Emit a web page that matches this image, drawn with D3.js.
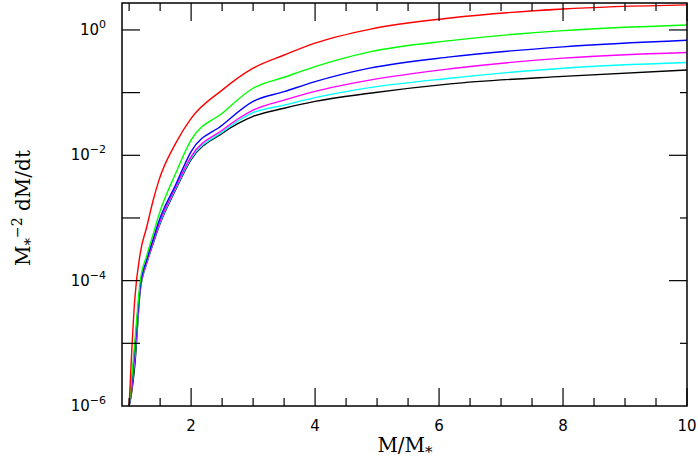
<!DOCTYPE html>
<html><head><meta charset="utf-8">
<script src="https://cdn.jsdelivr.net/npm/d3@7"></script>
<style>body{margin:0;background:#fff}</style>
</head><body>
<svg id="c" width="698" height="463"></svg>
<script>
// x = M/M*, series values given as log10(M*^-2 dM/dt)
const xs = [1.0, 1.03, 1.09, 1.18, 1.285, 1.39, 1.48, 1.75, 2, 2.5, 3, 3.5, 4, 4.88, 6.18, 8, 10];
const redLog = [-6, -5.37, -4.31, -3.56, -3.14, -2.71, -2.40, -1.81, -1.41, -0.96, -0.61, -0.40, -0.21, 0.01, 0.19, 0.335, 0.40];
const greenLog = [-6, -5.7, -5.0, -4.0, -3.6, -3.25, -2.95, -2.29, -1.755, -1.33, -0.93, -0.755, -0.585, -0.35, -0.17, -0.01, 0.08];
const blueLog = [-6, -5.75, -5.1, -4.08, -3.66, -3.33, -3.05, -2.47, -1.94, -1.52, -1.14, -0.985, -0.825, -0.61, -0.43, -0.27, -0.165];
const magentaLog = [-6, -5.8, -5.2, -4.12, -3.7, -3.37, -3.1, -2.51, -2.02, -1.60, -1.28, -1.12, -0.98, -0.80, -0.62, -0.45, -0.36];
const cyanLog = [-6, -5.8, -5.25, -4.13, -3.71, -3.38, -3.12, -2.53, -2.05, -1.63, -1.32, -1.20, -1.08, -0.92, -0.77, -0.61, -0.52];
const blackLog = [-6, -5.85, -5.37, -4.15, -3.72, -3.40, -3.14, -2.55, -2.07, -1.65, -1.38, -1.25, -1.14, -1.01, -0.86, -0.74, -0.64];
const xTickLabels = [2, 4, 6, 8, 10];
const yTickExps = [0, -2, -4, -6];

const series = [
  {c:"#000000", v:blackLog}, {c:"#00ffff", v:cyanLog}, {c:"#ff00ff", v:magentaLog},
  {c:"#0000ff", v:blueLog}, {c:"#00ff00", v:greenLog}, {c:"#ff0000", v:redLog}
];

const L=122, R=687, T=3, B=406;
const svg = d3.select("#c");
const x = d3.scaleLinear().domain([0.885,10]).range([L,R]);
const y = d3.scaleLog().domain([1e-6, Math.pow(10,0.43)]).range([B,T]);

svg.append("clipPath").attr("id","cp").append("rect")
  .attr("x",L).attr("y",T).attr("width",R-L).attr("height",B-T);

const line = d3.line().x(d=>x(d[0])).y(d=>y(d[1])).curve(d3.curveMonotoneX);
const g = svg.append("g").attr("clip-path","url(#cp)");
series.forEach(s=>{
  g.append("path").attr("d", line(xs.map((xv,i)=>[xv, Math.pow(10, s.v[i])])))
   .attr("fill","none").attr("stroke",s.c).attr("stroke-width",1.4);
});

svg.append("rect").attr("x",L).attr("y",T).attr("width",R-L).attr("height",B-T)
  .attr("fill","none").attr("stroke","#000").attr("stroke-width",1.5);

d3.range(1, 10.01, 0.5).forEach(v=>{
  const len = (v % 2 === 0) ? 18 : 8;
  [[B, B-len],[T, T+len]].forEach(([a,b])=>{
    svg.append("line").attr("x1",x(v)).attr("x2",x(v)).attr("y1",a).attr("y2",b)
      .attr("stroke","#000").attr("stroke-width",1.2);
  });
});
d3.range(-5, 1).forEach(e=>{
  const yy = y(Math.pow(10,e));
  svg.append("line").attr("x1",L).attr("x2",L+18).attr("y1",yy).attr("y2",yy)
    .attr("stroke","#000").attr("stroke-width",1.2);
  const rl = (e % 2 === 0) ? 18 : 7;
  svg.append("line").attr("x1",R).attr("x2",R-rl).attr("y1",yy).attr("y2",yy)
    .attr("stroke","#000").attr("stroke-width",1.2);
});

const lf = "'DejaVu Sans', 'Liberation Sans', sans-serif";
xTickLabels.forEach(v=>{
  svg.append("text").attr("x",x(v)).attr("y",431).attr("text-anchor","middle")
    .attr("font-family",lf).attr("font-size",15).text(v);
});
yTickExps.forEach(e=>{
  const t = svg.append("text").attr("x",106).attr("y",y(Math.pow(10,e))+5)
    .attr("text-anchor","end").attr("font-family",lf).attr("font-size",15);
  t.append("tspan").text("10");
  t.append("tspan").attr("dy",-7).attr("font-size",11).text(e===0?"0":"\u2212"+(-e));
});

const tf = "'DejaVu Serif','Liberation Serif',serif";
const xt = svg.append("text").attr("x",405).attr("y",452).attr("text-anchor","middle")
  .attr("font-family",tf).attr("font-size",20);
xt.append("tspan").text("M/M");
xt.append("tspan").attr("dy",5).attr("font-size",15).text("*");

const yt = svg.append("text").attr("transform","translate(30,208) rotate(-90)")
  .attr("text-anchor","middle").attr("font-family",tf).attr("font-size",20);
yt.append("tspan").text("M");
yt.append("tspan").attr("dy",5).attr("font-size",15).text("*");
yt.append("tspan").attr("dy",-13).attr("font-size",14).text("\u22122");
yt.append("tspan").attr("dy",8).text(" dM/dt");
</script>
</body></html>
